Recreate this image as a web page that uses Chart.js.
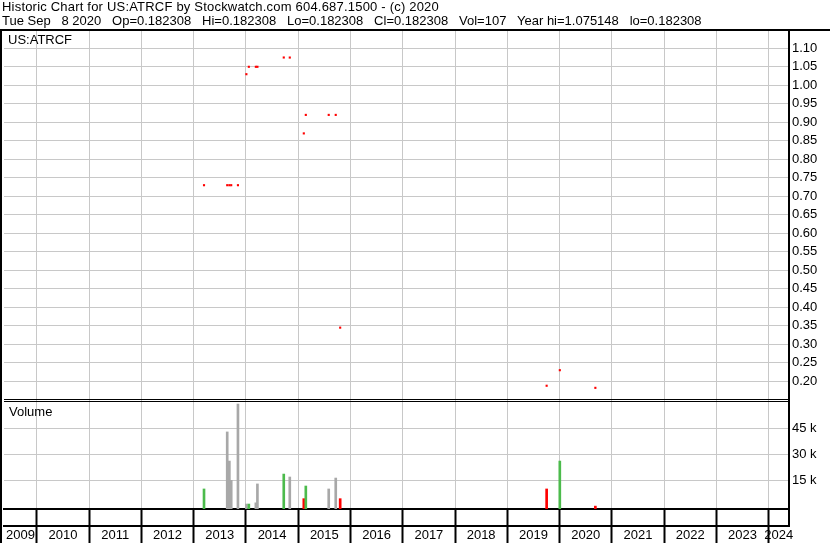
<!DOCTYPE html>
<html>
<head>
<meta charset="utf-8">
<script src="https://cdn.jsdelivr.net/npm/chart.js@4.4.1/dist/chart.umd.min.js"></script>
<style>
  html, body { margin: 0; padding: 0; background: #fff; }
  #wrap { position: relative; width: 830px; height: 543px; overflow: hidden; }
  #head { position: absolute; left: 2px; top: 0; font: 13px "Liberation Sans", Arial, sans-serif; line-height: 14px; color: #000; white-space: pre; }
  #head .l1 { letter-spacing: 0.2px; }
  canvas { position: absolute; left: 0; top: 0; }
</style>
</head>
<body>
<div id="wrap">
  <canvas id="chart" width="830" height="543"></canvas>
  <div id="head"><span class="l1">Historic Chart for US:ATRCF by Stockwatch.com 604.687.1500 - (c) 2020</span>
Tue Sep   8 2020   Op=0.182308   Hi=0.182308   Lo=0.182308   Cl=0.182308   Vol=107   Year hi=1.075148   lo=0.182308</div>
</div>
<script>
// trading days (weekly bars)
const tradeDates = ['2013-03-14', '2013-08-23', '2013-09-07', '2013-09-20', '2013-11-06',
  '2014-01-04', '2014-01-21', '2014-03-11', '2014-03-22', '2014-09-22', '2014-11-03',
  '2015-02-09', '2015-02-23', '2015-08-02', '2015-09-20', '2015-10-21',
  '2019-10-03', '2020-01-03', '2020-09-08'];
const closes = [0.73, 0.73, 0.73, 0.73, 0.73,
  1.03, 1.05, 1.05, 1.05, 1.075148, 1.075,
  0.87, 0.92, 0.92, 0.92, 0.345,
  0.188, 0.23, 0.182308];
const volumes = [10000, 42900, 26100, 15000, 59000,
  1300, 1300, 2000, 12900, 18600, 16900,
  4400, 11700, 10000, 16300, 4400,
  10000, 26100, 107];
const moves = ['up', 'flat', 'flat', 'flat', 'flat',
  'flat', 'up', 'flat', 'flat', 'up', 'flat',
  'down', 'up', 'flat', 'flat', 'down',
  'down', 'up', 'down'];
const priceTicks = [0.20, 0.25, 0.30, 0.35, 0.40, 0.45, 0.50, 0.55, 0.60, 0.65,
  0.70, 0.75, 0.80, 0.85, 0.90, 0.95, 1.00, 1.05, 1.10];
const volumeTicks = [15000, 30000, 45000];
const yearLabels = ['2009', '2010', '2011', '2012', '2013', '2014', '2015', '2016',
  '2017', '2018', '2019', '2020', '2021', '2022', '2023', '2024'];

const X_MIN = 2009.370, X_MAX = 2024.391;
const PRICE_MIN = 0.14676, PRICE_MAX = 1.14676;
const VOL_MIN = -1558, VOL_MAX = 60750;
const moveColors = { up: '#4cbb4c', down: '#ff0000', flat: '#a8a8a8' };
const GRID = '#c8c8c8';

function toYear(s) {
  const [y, m, d] = s.split('-').map(Number);
  const start = Date.UTC(y, 0, 1), end = Date.UTC(y + 1, 0, 1);
  return y + (Date.UTC(y, m - 1, d) - start) / (end - start);
}

const xs = tradeDates.map(toYear);
const firstYear = parseInt(yearLabels[0]);

Chart.defaults.font.family = '"Liberation Sans", Arial, sans-serif';
Chart.defaults.font.size = 13;
Chart.defaults.color = '#000';

const frame = {
  id: 'frame',
  afterDraw(chart) {
    const ctx = chart.ctx;
    const a = chart.chartArea;
    ctx.save();
    ctx.fillStyle = '#000';
    ctx.fillRect(0, 29, 830, 2);
    ctx.fillRect(0, 31, 2, 512);
    const volTop = chart.scales.vol.top;
    ctx.fillRect(a.left, volTop - 2, a.right - a.left, 1);
    ctx.fillRect(a.left, volTop, a.right - a.left, 1);
    ctx.fillRect(a.right - 1, a.bottom, 2, 17);
    ctx.font = '13px "Liberation Sans", Arial, sans-serif';
    ctx.textBaseline = 'top';
    ctx.fillText('US:ATRCF', 8, 34);
    ctx.fillText('Volume', 9, volTop + 5);
    ctx.restore();
  }
};

new Chart(document.getElementById('chart'), {
  type: 'scatter',
  data: {
    datasets: [{
      type: 'scatter',
      yAxisID: 'price',
      xAxisID: 'x',
      data: xs.map((x, i) => ({ x: x, y: closes[i] })),
      pointStyle: 'rect',
      pointRadius: 1.5,
      pointBorderWidth: 0,
      pointBackgroundColor: '#ff0000',
      showLine: false
    }, {
      type: 'bar',
      yAxisID: 'vol',
      xAxisID: 'x',
      data: xs.map((x, i) => ({ x: x, y: volumes[i] })),
      backgroundColor: moves.map(m => moveColors[m]),
      borderWidth: 0,
      barThickness: 2,
      base: VOL_MIN
    }]
  },
  options: {
    responsive: false,
    animation: false,
    events: [],
    layout: { padding: { top: 31, left: 2, right: 0, bottom: 0 } },
    plugins: { legend: { display: false }, tooltip: { enabled: false } },
    scales: {
      x: {
        type: 'linear', position: 'bottom', weight: 0,
        min: X_MIN, max: X_MAX, offset: false,
        grid: { color: GRID, lineWidth: 1, tickColor: '#000', tickLength: 34, tickWidth: 2, offset: false },
        border: { color: '#000', width: 2 },
        ticks: { display: false },
        afterBuildTicks: s => {
          s.ticks = yearLabels.slice(1).map(y => ({ value: parseInt(y) }));
        },
        afterFit: s => { s.height = 17; }
      },
      years: {
        type: 'linear', position: 'bottom', weight: 1,
        min: X_MIN, max: X_MAX, offset: false,
        grid: { display: false, drawTicks: false },
        border: { display: true, color: '#000', width: 2 },
        ticks: {
          autoSkip: false, maxRotation: 0, padding: 2,
          callback: (v, i) => yearLabels[i]
        },
        afterBuildTicks: s => {
          s.ticks = yearLabels.map((y, i) => {
            const lo = Math.max(firstYear + i, X_MIN), hi = Math.min(firstYear + i + 1, X_MAX);
            return { value: (lo + hi) / 2 };
          });
        },
        afterFit: s => { s.height = 17; }
      },
      price: {
        type: 'linear', position: 'right', stack: 'panes', stackWeight: 370,
        min: PRICE_MIN, max: PRICE_MAX,
        grid: { color: GRID, drawTicks: false },
        border: { color: '#000', width: 2 },
        ticks: { autoSkip: false, padding: 3, callback: v => v.toFixed(2) },
        afterBuildTicks: s => { s.ticks = priceTicks.map(v => ({ value: v })); },
        afterFit: s => { s.width = 41; }
      },
      vol: {
        type: 'linear', position: 'right', stack: 'panes', stackWeight: 108,
        min: VOL_MIN, max: VOL_MAX,
        grid: { color: GRID, drawTicks: false },
        border: { color: '#000', width: 2 },
        ticks: { autoSkip: false, padding: 3, callback: v => (v / 1000) + ' k' },
        afterBuildTicks: s => { s.ticks = volumeTicks.map(v => ({ value: v })); },
        afterFit: s => { s.width = 41; }
      }
    }
  },
  plugins: [frame]
});
</script>
</body>
</html>
